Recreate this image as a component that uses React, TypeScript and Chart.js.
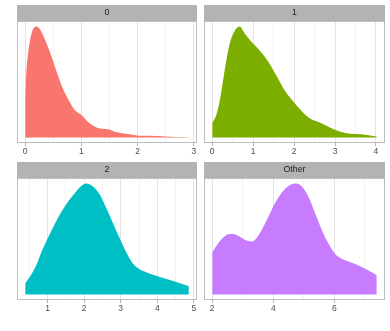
import React, { useEffect, useRef } from "react";
import { Chart, registerables } from "chart.js";

Chart.register(...registerables);

// Facet labels and fill colours
const panelLabels = ["0", "1", "2", "Other"];
const panelColors = ["#F8766D", "#7CAE00", "#00BFC4", "#C77CFF"];

// Density curves (relative density)
const x0 = [0, 0.02, 0.05, 0.1, 0.15, 0.2, 0.25, 0.32, 0.44, 0.55, 0.67, 0.79, 0.88, 1.0, 1.11, 1.26, 1.38, 1.49, 1.61, 1.75, 1.9, 2.02, 2.14, 2.25, 2.37, 2.49, 2.7, 2.91];
const d0 = [39, 65, 84, 102, 110, 111.7, 110, 102.7, 86, 67.7, 49.4, 36, 27.7, 22.7, 16, 10.4, 8.7, 8, 5.5, 4, 2.8, 1.8, 1.6, 1.8, 1.4, 1, 0.5, 0.3];

const x1 = [0, 0.1, 0.18, 0.26, 0.34, 0.42, 0.54, 0.67, 0.79, 0.95, 1.11, 1.28, 1.44, 1.6, 1.76, 1.94, 2.15, 2.4, 2.64, 2.89, 3.13, 3.37, 3.62, 3.86, 4.02];
const d1 = [14.4, 22.7, 36, 56, 76, 92.7, 106, 111, 104.4, 96, 89.4, 81, 71, 59.4, 47.7, 38, 28, 18.7, 14.7, 9.7, 5.7, 3.7, 3.3, 2, 1];

const x2 = [0.39, 0.5, 0.68, 0.86, 1.05, 1.23, 1.41, 1.59, 1.77, 1.95, 2.06, 2.23, 2.41, 2.59, 2.77, 2.95, 3.14, 3.32, 3.5, 3.68, 3.95, 4.23, 4.5, 4.86];
const d2 = [11.2, 16.7, 28.3, 45, 60, 73.3, 85, 95, 103.3, 110, 111.7, 109, 101.7, 88.3, 73.3, 58.3, 43.3, 31.7, 25.7, 22.7, 19, 15.7, 12.7, 8.3];

const x3 = [2.0, 2.2, 2.36, 2.52, 2.69, 2.85, 3.07, 3.29, 3.45, 3.62, 3.84, 4.05, 4.27, 4.49, 4.71, 4.93, 5.15, 5.37, 5.59, 5.8, 6.02, 6.24, 6.46, 6.68, 6.9, 7.12, 7.39];
const d3 = [42.3, 51.7, 57.3, 60.7, 61, 59, 55, 53.3, 56.7, 65, 78.3, 91.7, 102.3, 109, 111.7, 109, 98.3, 81.7, 65, 51.7, 41, 36, 33.3, 30.7, 27.7, 24, 19.3];

// Tick breaks
const major0 = [0, 1, 2, 3];
const minor0 = [0.5, 1.5, 2.5];
const major1 = [0, 1, 2, 3, 4];
const minor1 = [0.5, 1.5, 2.5, 3.5];
const major2 = [1, 2, 3, 4, 5];
const minor2 = [0.5, 1.5, 2.5, 3.5, 4.5];
const major3 = [2, 4, 6];
const minor3 = [3, 5, 7];

const FONT = '"Liberation Sans", Arial, sans-serif';

type PanelProps = {
  label: string;
  color: string;
  xs: number[];
  ys: number[];
  major: number[];
  minor: number[];
  left: number;
  top: number;
  width: number;
  height: number;
  padding: { left: number; right: number; top: number; bottom: number };
};

function Panel(p: PanelProps) {
  const ref = useRef<HTMLCanvasElement>(null);
  useEffect(() => {
    if (!ref.current) return;
    const xmin = Math.min(...p.xs);
    const xmax = Math.max(...p.xs);
    const r = xmax - xmin;
    const ymax = Math.max(...p.ys);
    const allTicks = [...p.major, ...p.minor].sort((a, b) => a - b);
    const isMajor = (v: number) => p.major.some((m) => Math.abs(m - v) < 1e-9);

    const stripPlugin = {
      id: "strip",
      afterDraw(chart: any) {
        const { ctx, chartArea: a } = chart;
        ctx.save();
        ctx.fillStyle = "#B3B3B3";
        ctx.fillRect(a.left, a.top - 16, a.right - a.left, 16);
        ctx.fillStyle = "#1A1A1A";
        ctx.font = `8.8px ${FONT}`;
        ctx.textAlign = "center";
        ctx.textBaseline = "middle";
        ctx.fillText(p.label, (a.left + a.right) / 2, a.top - 8);
        ctx.strokeStyle = "#BDBDBD";
        ctx.lineWidth = 1;
        ctx.strokeRect(a.left + 0.5, a.top + 0.5, a.right - a.left - 1, a.bottom - a.top - 1);
        ctx.restore();
      },
    };

    const chart = new Chart(ref.current, {
      type: "line",
      data: {
        datasets: [
          {
            data: p.xs.map((x, i) => ({ x, y: p.ys[i] })),
            fill: "origin",
            backgroundColor: p.color,
            borderWidth: 0,
            borderColor: "rgba(0,0,0,0)",
            pointRadius: 0,
            cubicInterpolationMode: "monotone",
          },
        ],
      },
      options: {
        animation: false,
        responsive: false,
        devicePixelRatio: 1,
        layout: { padding: p.padding },
        plugins: { legend: { display: false }, tooltip: { enabled: false } },
        scales: {
          x: {
            type: "linear",
            min: xmin - 0.05 * r,
            max: xmax + 0.05 * r,
            afterBuildTicks: (s: any) => {
              s.ticks = allTicks.map((v) => ({ value: v }));
            },
            afterFit: (s: any) => {
              s.height = 17;
            },
            grid: {
              color: (c: any) => (isMajor(c.tick?.value) ? "#E3E3E3" : "#F2F2F2"),
              lineWidth: 1,
              drawTicks: true,
              tickLength: 3,
              tickColor: (c: any) => (isMajor(c.tick?.value) ? "#B3B3B3" : "rgba(0,0,0,0)"),
            },
            border: { display: false },
            ticks: {
              autoSkip: false,
              maxRotation: 0,
              padding: 1,
              color: "#4D4D4D",
              font: { family: FONT, size: 8.5 },
              callback: (v: any) => (isMajor(Number(v)) ? String(v) : ""),
            },
          },
          y: { display: false, min: -0.05 * ymax, max: 1.05 * ymax },
        },
      } as any,
      plugins: [stripPlugin],
    });
    return () => chart.destroy();
  }, []);
  return (
    <canvas
      ref={ref}
      width={p.width}
      height={p.height}
      style={{ position: "absolute", left: p.left, top: p.top, width: p.width, height: p.height }}
    />
  );
}

export default function App() {
  const padTL = { left: 17, top: 21, right: 3, bottom: 0 };
  const padTR = { left: 4, top: 21, right: 5, bottom: 0 };
  const padBL = { left: 17, top: 18, right: 3, bottom: 14 };
  const padBR = { left: 4, top: 18, right: 5, bottom: 14 };
  return (
    <div style={{ position: "fixed", left: 0, top: 0, width: 390, height: 331, background: "#FFFFFF" }}>
      <Panel label={panelLabels[0]} color={panelColors[0]} xs={x0} ys={d0} major={major0} minor={minor0} left={0} top={0} width={200} height={160} padding={padTL} />
      <Panel label={panelLabels[1]} color={panelColors[1]} xs={x1} ys={d1} major={major1} minor={minor1} left={200} top={0} width={190} height={160} padding={padTR} />
      <Panel label={panelLabels[2]} color={panelColors[2]} xs={x2} ys={d2} major={major2} minor={minor2} left={0} top={160} width={200} height={171} padding={padBL} />
      <Panel label={panelLabels[3]} color={panelColors[3]} xs={x3} ys={d3} major={major3} minor={minor3} left={200} top={160} width={190} height={171} padding={padBR} />
    </div>
  );
}
